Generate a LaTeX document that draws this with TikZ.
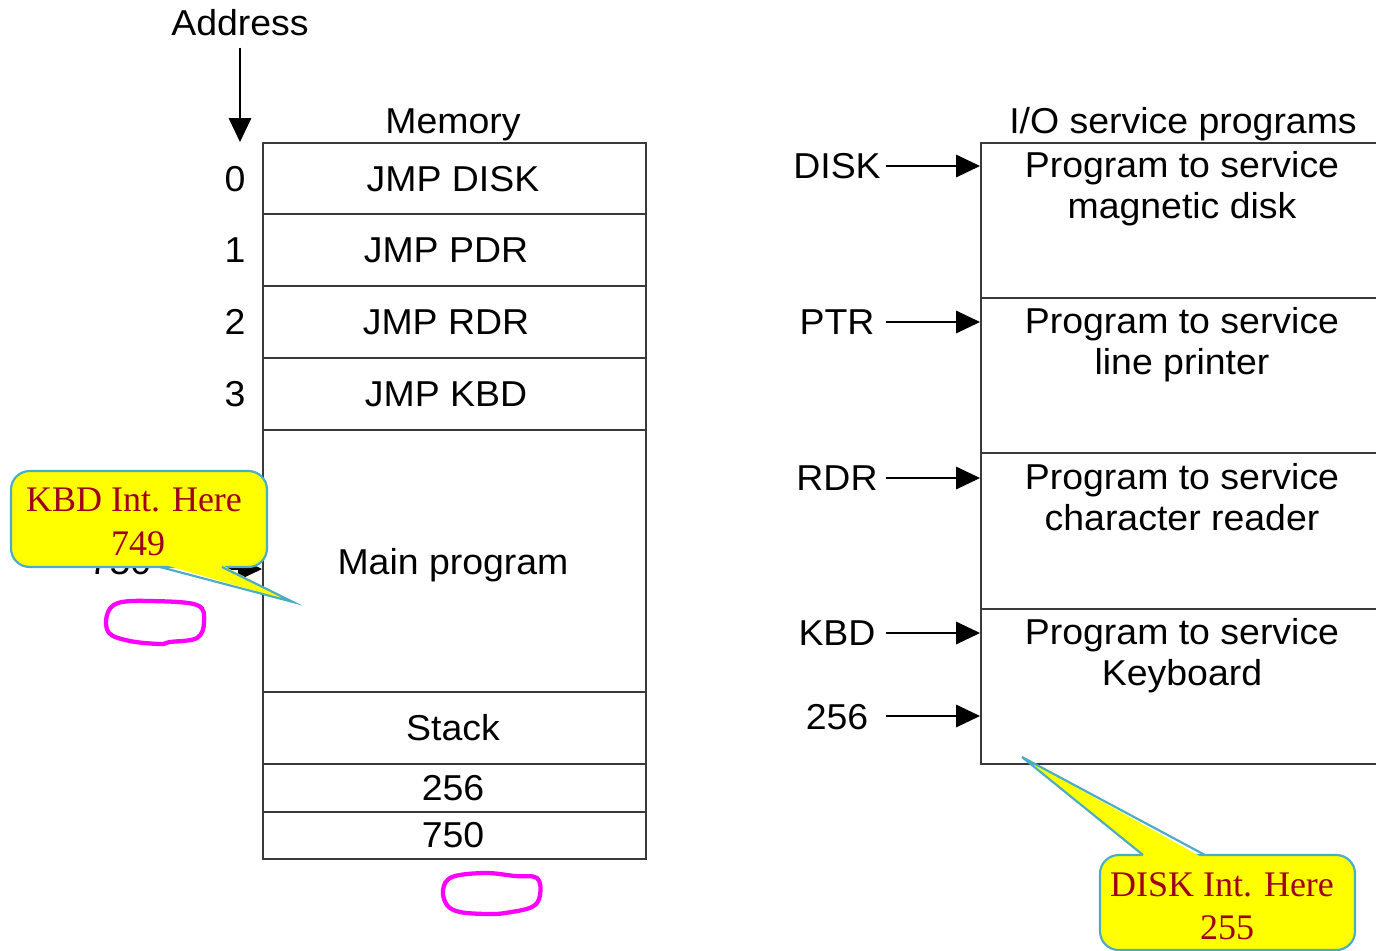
\documentclass[tikz,border=0pt]{standalone}
\usepackage{fontspec}
\setmainfont[FakeStretch=1.04]{Liberation Sans}
\newfontfamily\calloutfont{Liberation Serif}
\usetikzlibrary{arrows.meta}
\definecolor{callred}{HTML}{A0001E}
\definecolor{callblue}{HTML}{4BACC6}
\definecolor{boxline}{HTML}{3A3A3A}
\definecolor{scrib}{HTML}{FF00FF}
\definecolor{callfill}{HTML}{FFFF00}
\begin{document}
\begin{tikzpicture}[x=0.75pt,y=-0.75pt,
  lbl/.style={font=\fontsize{27}{31}\selectfont, inner sep=0pt, anchor=base},
  mlbl/.style={font=\fontsize{27}{31}\selectfont, inner sep=0pt, anchor=north, align=center},
  cl/.style={font=\calloutfont\fontsize{27}{33}\selectfont, text=callred, inner sep=0pt, anchor=base},
  grid/.style={draw=boxline, line width=0.8pt},
  arr/.style={-{Triangle[length=18pt,width=17pt]}, line width=0.8pt},
  callout/.style={fill=callfill, draw=callblue, line width=1.6pt, rounded corners=14},
  pointer/.style={draw=callblue, line width=1.6pt, line join=miter},
  scribble/.style={draw=scrib, line width=3.2pt, line cap=round, line join=round}]
\useasboundingbox (0,0) rectangle (1376,950);

% ---------- Memory ----------
\node[lbl] (addr) at (240,35) {Address};
\coordinate (a0) at (240,142);
\draw[arr, shorten <=9pt] (addr.south) -- (a0);

\node[lbl] (memtitle) at (453,133) {Memory};
\draw[grid] (263,143) rectangle (646,859);
\foreach \y in {214,286,358,430,692,764,812} \draw[grid] (263,\y) -- (646,\y);

\node[lbl] (n0) at (235,191) {0};
\node[lbl] (n1) at (235,262) {1};
\node[lbl] (n2) at (235,334) {2};
\node[lbl] (n3) at (235,406) {3};

\node[lbl] (c0) at (453,191) {JMP DISK};
\node[lbl] (c1) at (446,262) {JMP PDR};
\node[lbl] (c2) at (446,334) {JMP RDR};
\node[lbl] (c3) at (446,406) {JMP KBD};
\node[lbl] (cmain) at (453,574) {Main program};
\node[lbl] (cstack) at (453,740) {Stack};
\node[lbl] (c256) at (453,800) {256};
\node[lbl] (c750) at (453,847) {750};

% address label partly hidden under the callout
\node[lbl] (n750) at (120,574) {750};
\coordinate (m750) at (262,569);
\coordinate (s750) at (185,569);
\draw[arr] (s750) -- (m750);

% ---------- I/O service programs ----------
\node[lbl] (iotitle) at (1183,133) {I/O service programs};
\draw[grid] (1376,143) -- (981,143) -- (981,764) -- (1376,764);
\foreach \y in {298,453,609} \draw[grid] (981,\y) -- (1376,\y);

\node[mlbl] (p1) at (1182,151) {Program to service\\magnetic disk};
\node[mlbl] (p2) at (1182,307) {Program to service\\line printer};
\node[mlbl] (p3) at (1182,463) {Program to service\\character reader};
\node[mlbl] (p4) at (1182,618) {Program to service\\Keyboard};

\coordinate (srcx) at (886,0);
\node[lbl] (lDISK) at (837,178) {DISK};
\node[lbl] (lPTR) at (837,334) {PTR};
\node[lbl] (lRDR) at (837,490) {RDR};
\node[lbl] (lKBD) at (837,645) {KBD};
\node[lbl] (l256) at (837,729) {256};
\coordinate (tDISK) at (980,166);
\coordinate (tPTR) at (980,322);
\coordinate (tRDR) at (980,478);
\coordinate (tKBD) at (980,633);
\coordinate (t256) at (980,716);
\draw[arr] (srcx |- tDISK) -- (tDISK);
\draw[arr] (srcx |- tPTR) -- (tPTR);
\draw[arr] (srcx |- tRDR) -- (tRDR);
\draw[arr] (srcx |- tKBD) -- (tKBD);
\draw[arr] (srcx |- t256) -- (t256);

% ---------- Callouts ----------
% KBD callout
\draw[callout] (11,471) rectangle (267,567);
\fill[callfill] (162,564) -- (293,602) -- (220,564) -- cycle;
\draw[pointer] (160,567) -- (293,602) -- (222,567);
\node[cl] (kbdtxt1) at (134,511) {KBD Int. Here};
\node[cl] (kbdtxt2) at (138,555) {749};

% DISK callout
\draw[callout] (1100,855) rectangle (1355,950);
\fill[callfill] (1145,858) -- (1022,757) -- (1203,858) -- cycle;
\draw[pointer] (1143,855) -- (1022,757) -- (1205,855);
\node[cl] (disktxt1) at (1222,896) {DISK Int. Here};
\node[cl] (disktxt2) at (1227,939) {255};

% ---------- Scribbles ----------
\draw[scribble] plot[smooth cycle, tension=0.6] coordinates {(107,615) (118,603) (150,601) (197,605) (204,622) (197,638) (170,642) (160,644) (130,641) (109,633)};
\draw[scribble] plot[smooth cycle, tension=0.6] coordinates {(443,890) (452,877) (485,873) (515,876) (537,878) (540,895) (532,907) (505,913) (487,914) (460,912) (447,905)};
\end{tikzpicture}
\end{document}
